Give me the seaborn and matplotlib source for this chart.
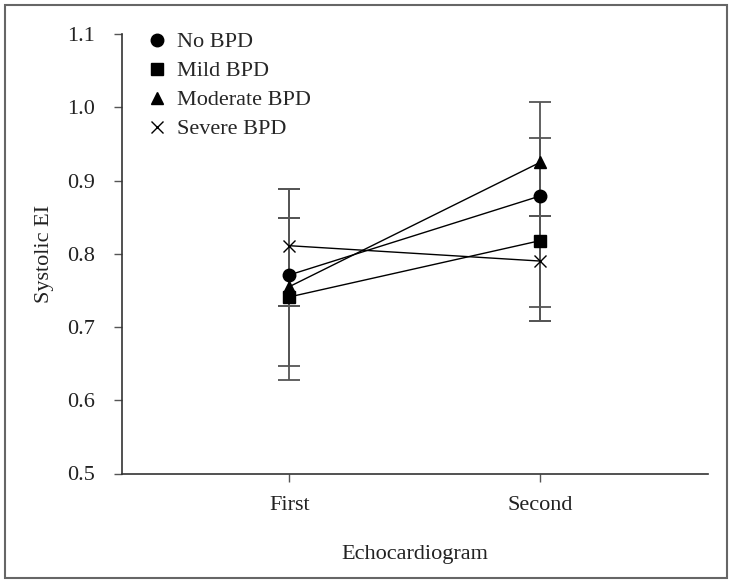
import matplotlib
matplotlib.use("Agg")
import matplotlib.pyplot as plt
from matplotlib.lines import Line2D
from matplotlib.patches import Rectangle
import seaborn as sns
import pandas as pd
import numpy as np

# ---- data ----
visits = ["First", "Second"]
groups = ["No BPD", "Mild BPD", "Moderate BPD", "Severe BPD"]
no_bpd = [0.771, 0.879]
mild_bpd = [0.741, 0.818]
moderate_bpd = [0.755, 0.925]
severe_bpd = [0.811, 0.790]
no_bpd_low = [0.647, 0.727]
no_bpd_high = [0.888, 0.958]
mild_bpd_low = [0.628, 0.708]
mild_bpd_high = [0.849, 0.851]
moderate_bpd_low = [0.729, 0.851]
moderate_bpd_high = [0.849, 1.007]
severe_bpd_low = [0.729, 0.708]
severe_bpd_high = [0.888, 0.851]
y_ticks = [0.5, 0.6, 0.7, 0.8, 0.9, 1.0, 1.1]

means = [no_bpd, mild_bpd, moderate_bpd, severe_bpd]
lows = [no_bpd_low, mild_bpd_low, moderate_bpd_low, severe_bpd_low]
highs = [no_bpd_high, mild_bpd_high, moderate_bpd_high, severe_bpd_high]
markers = ["o", "s", "^", "x"]
msizes = [9, 8.5, 9, 8]

sns.set_style("ticks")
plt.rcParams["font.family"] = ["Liberation Serif", "DejaVu Serif"]

fig = plt.figure(figsize=(7.35, 5.84), dpi=100)
ax = fig.add_axes([121.7 / 735, 1 - 473.5 / 584, (708 - 121.7) / 735, (473.5 - 34) / 584])

# error bars
for g, m, lo, hi in zip(groups, means, lows, highs):
    x = np.arange(len(m))
    m = np.array(m)
    yerr = np.vstack([m - np.array(lo), np.array(hi) - m])
    ax.errorbar(x, m, yerr=yerr, fmt="none", ecolor="#555555", elinewidth=1.3,
                capsize=8, capthick=1.3, zorder=1)

for g, m, mk, ms in zip(groups, means, markers, msizes):
    d = pd.DataFrame({"visit": np.arange(len(m)), "value": m})
    sns.lineplot(data=d, x="visit", y="value", color="black", marker=mk,
                 markersize=ms, linewidth=1.0, ax=ax,
                 zorder=3, markeredgecolor="black", markeredgewidth=1.0)

ax.set_xlim(-2 / 3, 5 / 3)
ax.set_ylim(0.5, 1.1)
ax.set_xticks([0, 1])
ax.set_xticklabels(visits)
ax.set_yticks(y_ticks)
ax.set_yticklabels([f"{t:.1f}" for t in y_ticks])
for s in ["top", "right"]:
    ax.spines[s].set_visible(False)
for s in ["left", "bottom"]:
    ax.spines[s].set_color("#333333")
    ax.spines[s].set_linewidth(1.2)
ax.tick_params(axis="both", length=6, width=1.0, color="#555555",
               labelsize=16, labelcolor="#222222")
ax.tick_params(axis="y", pad=13)
ax.tick_params(axis="x", pad=10)
ax.set_xlabel("Echocardiogram", fontsize=16, color="#222222", labelpad=22)
ax.set_ylabel("Systolic EI", fontsize=16, color="#222222", labelpad=10)

handles = [Line2D([], [], color="black", marker=mk, linestyle="none",
                  markersize=ms, markeredgewidth=1.0)
           for mk, ms in zip(markers, msizes)]
ax.legend(handles, groups, loc="upper left", bbox_to_anchor=(0.028, 1.025),
          frameon=False, fontsize=16, handletextpad=0.45, labelspacing=0.38,
          handlelength=0.9, borderaxespad=0)

fig.patches.append(Rectangle((5 / 735, 1 - 578 / 584), 722 / 735, 573 / 584,
                             transform=fig.transFigure, fill=False,
                             edgecolor="#666666", linewidth=1.5))

fig.savefig("out.png", dpi=100)
